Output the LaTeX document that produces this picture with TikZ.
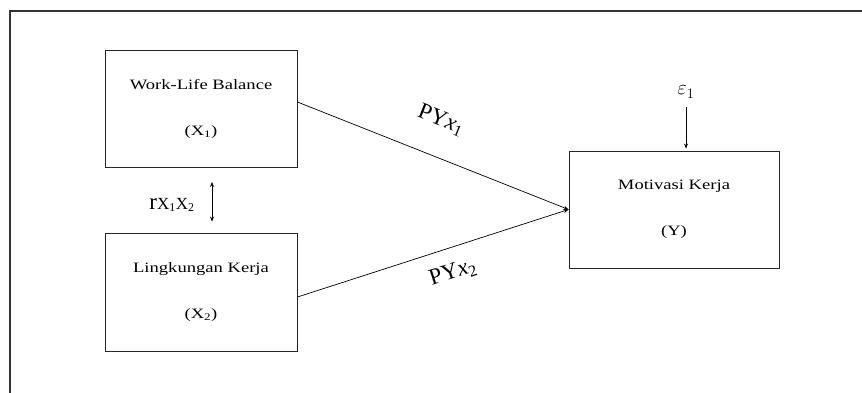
\documentclass[tikz,border=0pt]{standalone}
\usepackage{fontspec}
\setmainfont{Liberation Serif}
\newfontfamily\boxfont[FakeStretch=1.3]{Liberation Serif}
\usetikzlibrary{arrows.meta}

\begin{document}
\begin{tikzpicture}[x=1pt, y=-1pt, >={Stealth[length=5pt,width=4pt]},
varbox/.style = {draw=black!85, line width=0.9pt, fill=white,
	minimum width=192pt, minimum height=117pt, inner sep=0pt,
	align=center, font=\boxfont\fontsize{14.3}{16}\selectfont},
path label/.style = {font=\fontsize{23}{23}\selectfont, inner sep=0pt},
link/.style = {->, line width=0.7pt}
]
\useasboundingbox (0,0) rectangle (862,392);
\clip (0,0) rectangle (862,392);
% Outer frame
\draw[line width=1.3pt, black!80] (10,11) rectangle (890,420);

% Draw the variable boxes
\node[varbox] (WLB) at (201,109) {Work-Life Balance\\[30pt](X\textsubscript{1})};
\node[varbox, minimum height=118pt] (LK) at (201,292) {Lingkungan Kerja\\[30pt](X\textsubscript{2})};
\node[varbox, minimum width=210pt] (MK) at (674,209.5) {Motivasi Kerja\\[30pt](Y)};
\node[path label, font=\fontsize{20}{20}\selectfont] (E1) at (686,92) {$\varepsilon_1$};

% Connect the boxes
\draw[link] ([yshift=7pt]WLB.east) -- (MK.west);
\draw[link] ([yshift=-5pt]LK.east) -- (MK.west);
\draw[link, shorten <=9pt, shorten >=2pt] (E1.south) -- ([xshift=12pt]MK.north);
\draw[<->, line width=0.7pt, shorten <=14pt, shorten >=11pt] ([xshift=11pt]WLB.south) -- ([xshift=11pt]LK.north);

% Path labels
\node[path label, rotate=-22] (P1) at (441,120) {PY\textit{x}\textsubscript{1}};
\node[path label, rotate=18] (P2) at (453,273) {PY\textit{x}\textsubscript{2}};
\node[path label] (R12) at (172,205) {r{\fontsize{17}{17}\selectfont X\textsubscript{1}X\textsubscript{2}}};
\end{tikzpicture}
\end{document}
